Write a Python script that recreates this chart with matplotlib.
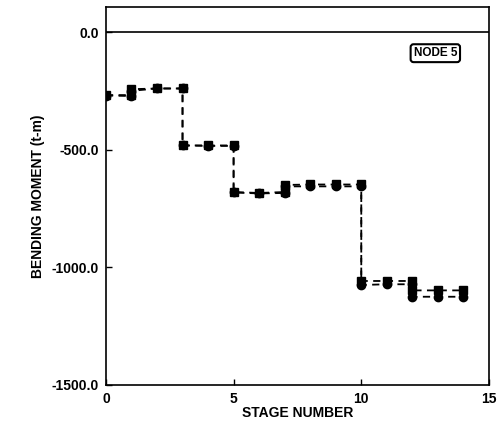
import matplotlib
matplotlib.use("Agg")
import matplotlib.pyplot as plt

plt.rcParams['font.family'] = ['Liberation Sans', 'DejaVu Sans']

# Series A (upper curve) - stage vs bending moment
stage_a = [0, 1, 1, 2, 3, 3, 4, 5, 5, 6, 7, 7, 8, 9, 10, 10, 11, 12, 12, 13, 14]
moment_a = [-268, -268, -243, -240, -240, -482, -482, -482, -680, -684, -680, -650, -648, -648, -648,
            -1058, -1058, -1058, -1098, -1098, -1098]
# Series B (lower curve)
stage_b = [0, 1, 1, 2, 3, 3, 4, 5, 5, 6, 7, 7, 8, 9, 10, 10, 11, 12, 12, 13, 14]
moment_b = [-270, -272, -250, -240, -240, -482, -484, -484, -682, -686, -684, -656, -656, -656, -656,
            -1075, -1072, -1072, -1125, -1125, -1125]

x_ticks = [0, 5, 10, 15]
y_ticks = [0, -500, -1000, -1500]

fig = plt.figure(figsize=(5.02, 4.22), dpi=100)
ax = fig.add_axes([0.211, 0.0877, 0.763, 0.895])

ax.plot(stage_a, moment_a, color='black', linestyle=(0, (4, 3)), linewidth=1.3,
        marker='s', markersize=6, markerfacecolor='black', markeredgecolor='black')
ax.plot(stage_b, moment_b, color='black', linestyle=(0, (4, 3)), linewidth=1.3,
        marker='o', markersize=6, markerfacecolor='black', markeredgecolor='black')

ax.axhline(0, color='black', linewidth=1.2)

ax.set_xlim(0, 15)
ax.set_ylim(-1500, 105)
ax.set_xticks(x_ticks)
ax.set_yticks(y_ticks)
ax.set_xticklabels([str(t) for t in x_ticks], fontweight='bold', fontsize=10)
ax.set_yticklabels(['%.1f' % t for t in y_ticks], fontweight='bold', fontsize=10)
ax.tick_params(direction='in', length=4, width=1, pad=5)
for s in ax.spines.values():
    s.set_linewidth(1.2)

ax.set_xlabel('STAGE NUMBER', fontweight='bold', fontsize=10, labelpad=0)
ax.set_ylabel('BENDING MOMENT (t-m)', fontweight='bold', fontsize=10, labelpad=5)

ax.text(12.9, -90, 'NODE 5', fontweight='bold', fontsize=8.5, ha='center', va='center',
        bbox=dict(boxstyle='round,pad=0.25', facecolor='white', edgecolor='black', linewidth=1.5))

fig.savefig('out.png', dpi=100)
